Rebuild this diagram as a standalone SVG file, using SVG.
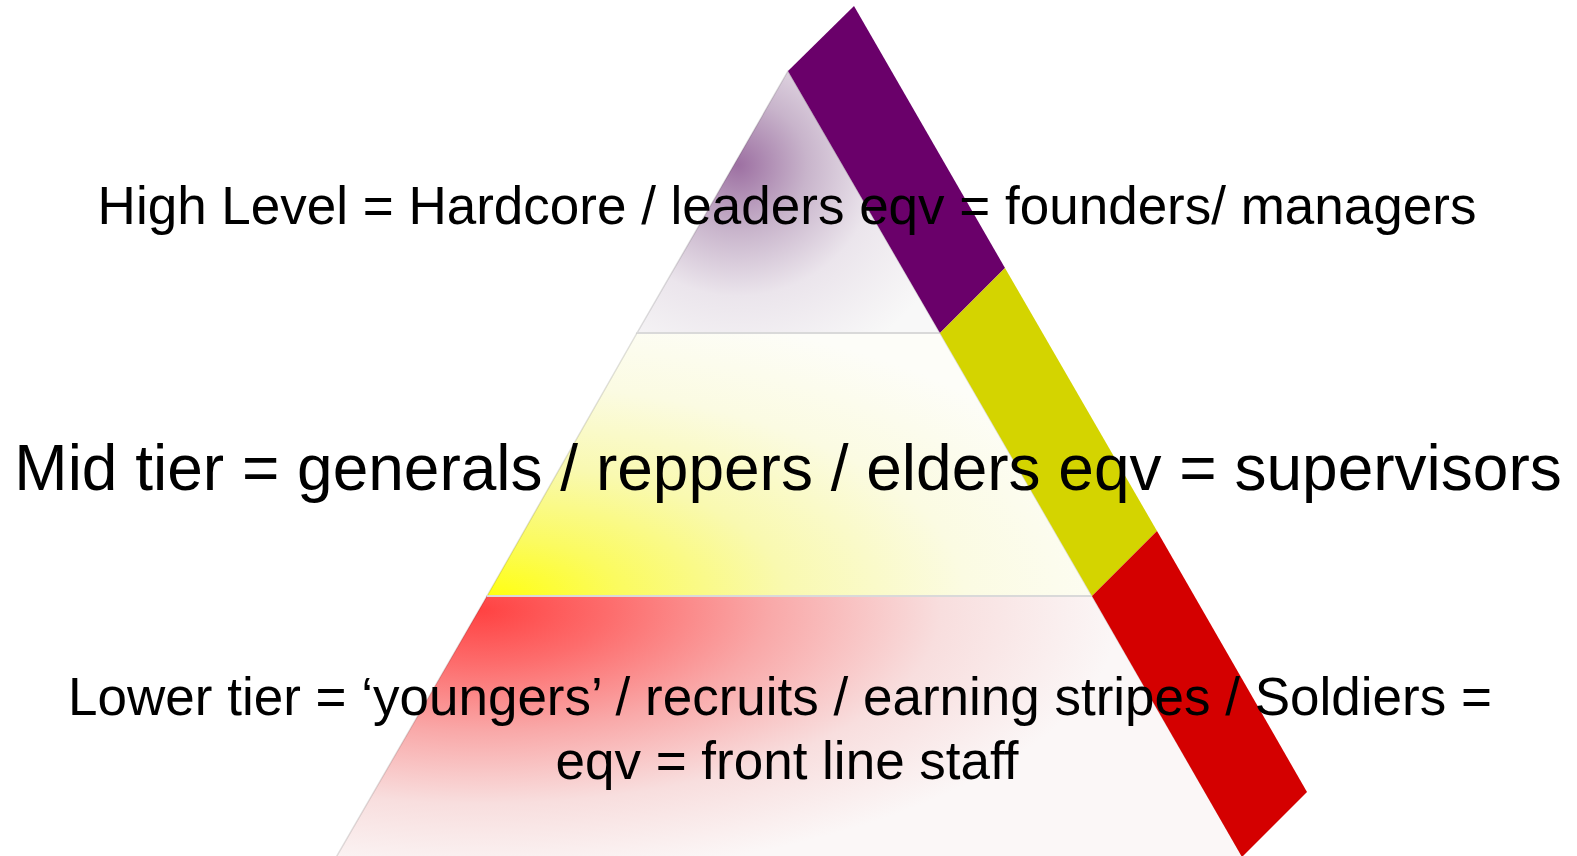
<svg xmlns="http://www.w3.org/2000/svg" width="1577" height="856" viewBox="0 0 1577 856">
  <style>
    .label { font-family: "Liberation Sans", Arial, sans-serif; fill: #000; text-anchor: middle; }
    .tier { stroke: #000; stroke-opacity: 0.12; stroke-width: 1.5; }
    .divider { stroke: #d9d9d9; stroke-width: 2; }
  </style>
  <defs>
    <radialGradient id="gradTop" gradientUnits="userSpaceOnUse" cx="738" cy="165" r="230" gradientTransform="translate(738 165) scale(1 0.95) translate(-738 -165)">
      <stop offset="0" stop-color="#9d70a2"/>
      <stop offset="0.3" stop-color="#c8b4cb"/>
      <stop offset="0.6" stop-color="#ebe5ec"/>
      <stop offset="1" stop-color="#f8f8f8"/>
    </radialGradient>
    <radialGradient id="gradMid" gradientUnits="userSpaceOnUse" cx="490" cy="598" r="660" gradientTransform="translate(490 598) scale(1 0.45) translate(-490 -598)">
      <stop offset="0" stop-color="#ffff10"/>
      <stop offset="0.2" stop-color="#fbfb60"/>
      <stop offset="0.45" stop-color="#f9f9b0"/>
      <stop offset="0.72" stop-color="#fbfbe2"/>
      <stop offset="1" stop-color="#fdfdf8"/>
    </radialGradient>
    <radialGradient id="gradLow" gradientUnits="userSpaceOnUse" cx="480" cy="610" r="640" gradientTransform="translate(480 610) scale(1 0.42) translate(-480 -610)">
      <stop offset="0" stop-color="#ff4242"/>
      <stop offset="0.2" stop-color="#fd6c6c"/>
      <stop offset="0.45" stop-color="#f9a8a8"/>
      <stop offset="0.72" stop-color="#f8dede"/>
      <stop offset="1" stop-color="#fbf7f7"/>
    </radialGradient>
  </defs>

  <!-- pyramid tiers (equilateral triangle, apex at 788,71) -->
  <g id="tier-high">
    <polygon class="tier" points="788,71 940,333 637,333" fill="url(#gradTop)"/>
  </g>
  <g id="tier-mid">
    <polygon class="tier" points="637,333 940,333 1092,596 487,596" fill="url(#gradMid)"/>
  </g>
  <g id="tier-low">
    <polygon class="tier" points="487,596 1092,596 1252,873 327,873" fill="url(#gradLow)"/>
  </g>

  <!-- tier dividers -->
  <g id="dividers">
    <line class="divider" x1="637" y1="333" x2="940" y2="333"/>
    <line class="divider" x1="487" y1="596" x2="1092" y2="596"/>
  </g>

  <!-- coloured band along the right side -->
  <g id="band-purple">
    <polygon points="788,71 854,6 1005,268 940,333" fill="#6a006a"/>
  </g>
  <g id="band-yellow">
    <polygon points="940,333 1005,268 1157,531 1092,596" fill="#d4d400"/>
  </g>
  <g id="band-red">
    <polygon points="1092,596 1157,531 1307,792 1242,857" fill="#d40000"/>
  </g>

  <!-- tier labels -->
  <g id="label-high">
    <text class="label" x="787" y="224" font-size="53">High Level = Hardcore / leaders eqv = founders/ managers</text>
  </g>
  <g id="label-mid">
    <text class="label" x="788" y="490" font-size="64">Mid tier = generals / reppers / elders eqv = supervisors</text>
  </g>
  <g id="label-low">
    <text class="label" x="780" y="715" font-size="53">Lower tier = ‘youngers’ / recruits / earning stripes / Soldiers =</text>
    <text class="label" x="787" y="779" font-size="53">eqv = front line staff</text>
  </g>
</svg>
